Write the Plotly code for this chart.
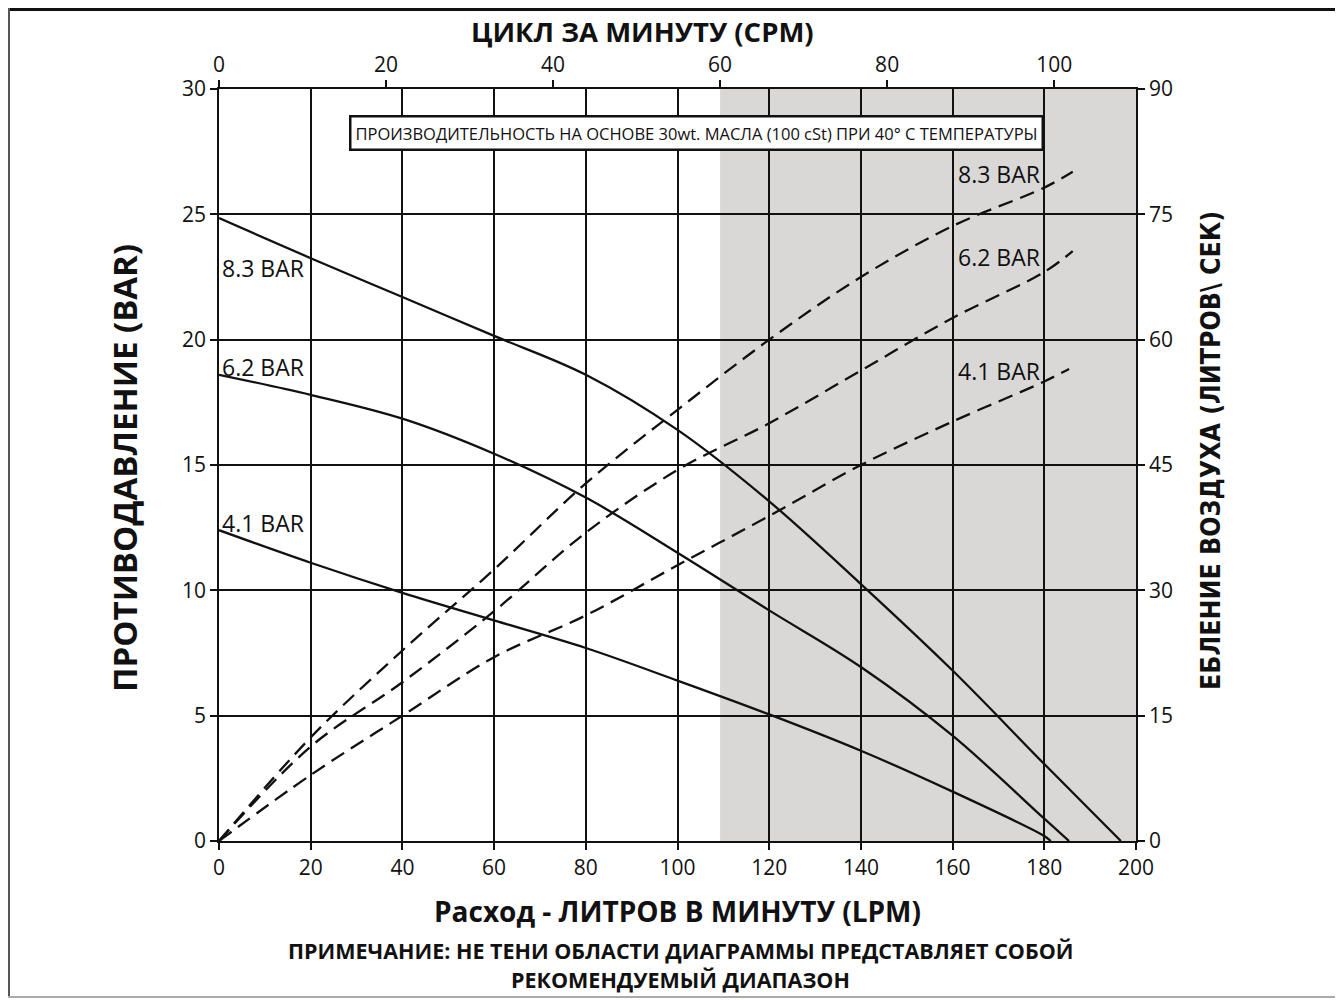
import plotly.graph_objects as go

# ---------------- data ----------------
lpm_ticks = [0, 20, 40, 60, 80, 100, 120, 140, 160, 180, 200]
bar_ticks = [0, 5, 10, 15, 20, 25, 30]
air_ticks = [0, 15, 30, 45, 60, 75, 90]
cpm_ticks = [0, 20, 40, 60, 80, 100]
cpm_axis_max = 109.8          # CPM at right edge (200 LPM)
shade_start_cpm = 60          # recommended range ends at 60 CPM

# back pressure (bar) vs flow (LPM) - solid
p83_x = [0, 20, 40, 60, 80, 100, 120, 140, 160, 180, 196.7]
p83_y = [24.85, 23.25, 21.7, 20.15, 18.6, 16.4, 13.55, 10.25, 6.8, 3.07, 0]
p62_x = [0, 20, 40, 60, 80, 100, 120, 140, 160, 180, 185.4]
p62_y = [18.6, 17.8, 16.85, 15.45, 13.7, 11.5, 9.2, 6.94, 4.2, 0.89, 0]
p41_x = [0, 20, 40, 60, 80, 100, 120, 140, 160, 180, 181.4]
p41_y = [12.4, 11.1, 9.9, 8.8, 7.7, 6.4, 5.05, 3.6, 1.97, 0.2, 0]

# air consumption (l/s) vs flow (LPM) - dashed
a83_x = [0, 20, 40, 60, 80, 100, 120, 140, 160, 180, 186.2]
a83_y = [0, 12.4, 22.8, 32.5, 42.8, 51.6, 60.0, 67.5, 73.6, 78.2, 80.1]
a62_x = [0, 20, 40, 60, 80, 100, 120, 140, 160, 180, 186.2]
a62_y = [0, 11.3, 19.0, 27.5, 36.9, 44.4, 50.0, 56.3, 62.6, 68.1, 70.6]
a41_x = [0, 20, 40, 60, 80, 100, 120, 140, 160, 180, 185.4]
a41_y = [0, 7.9, 15.0, 22.0, 27.0, 33.0, 38.9, 45.0, 50.2, 55.0, 56.5]

series_labels = ["8.3 BAR", "6.2 BAR", "4.1 BAR"]
left_label_y = [22.85, 18.9, 12.68]     # bar
right_label_y = [79.8, 69.9, 56.2]      # l/s

txt_top = "ЦИКЛ ЗА МИНУТУ (CPM)"
txt_bottom = "Расход - ЛИТРОВ В МИНУТУ (LPM)"
txt_left = "ПРОТИВОДАВЛЕНИЕ (BAR)"
txt_right = "ЕБЛЕНИЕ ВОЗДУХА (ЛИТРОВ\\ СЕК)"
txt_box = "ПРОИЗВОДИТЕЛЬНОСТЬ НА ОСНОВЕ 30wt. МАСЛА (100 cSt) ПРИ 40° С ТЕМПЕРАТУРЫ"
txt_note1 = "ПРИМЕЧАНИЕ: НЕ ТЕНИ ОБЛАСТИ ДИАГРАММЫ ПРЕДСТАВЛЯЕТ СОБОЙ"
txt_note2 = "РЕКОМЕНДУЕМЫЙ ДИАПАЗОН"

# ---------------- layout geometry (page pixels; page body has 8px margin) ----------------
OFF = 8
W, H = 1343 - OFF, 1000 - OFF
L, R, T, B = 219, 1136, 89, 841          # plot area in page pixels
FONT = "Open Sans, Noto Sans, DejaVu Sans, sans-serif"
NARROW = "Liberation Sans Narrow, DejaVu Sans Condensed, Open Sans, sans-serif"
INK = "#111111"


def px(xp):
    return (xp - L) / (R - L)


def py(yp):
    return (B - yp) / (B - T)


fig = go.Figure()

line_solid = dict(color=INK, width=2.3, shape="spline", smoothing=1.0)
line_dash = dict(color=INK, width=2.3, dash="15px,8px", shape="spline", smoothing=1.0)

for xs, ys, name in [(p83_x, p83_y, "8.3"), (p62_x, p62_y, "6.2"), (p41_x, p41_y, "4.1")]:
    fig.add_trace(go.Scatter(x=xs, y=ys, mode="lines", line=line_solid,
                             name=name + " bar", showlegend=False, hoverinfo="skip",
                             xaxis="x", yaxis="y"))
for xs, ys, name in [(a83_x, a83_y, "8.3"), (a62_x, a62_y, "6.2"), (a41_x, a41_y, "4.1")]:
    fig.add_trace(go.Scatter(x=xs, y=ys, mode="lines", line=line_dash,
                             name=name + " air", showlegend=False, hoverinfo="skip",
                             xaxis="x", yaxis="y2"))
# helper (invisible) trace so the top CPM axis is drawn
fig.add_trace(go.Scatter(x=cpm_ticks, y=[0] * len(cpm_ticks), mode="markers", marker=dict(opacity=0),
                         showlegend=False, hoverinfo="skip", xaxis="x2", yaxis="y"))

tickfont = dict(family=FONT, size=21, color=INK)

fig.update_layout(
    width=W, height=H,
    margin=dict(l=L - OFF, r=W - (R - OFF), t=T - OFF, b=H - (B - OFF), pad=0),
    paper_bgcolor="white", plot_bgcolor="white",
    showlegend=False,
    xaxis=dict(range=[0, 200], tickvals=lpm_ticks, ticks="outside", ticklen=7, tickwidth=1.5,
               tickcolor=INK, showgrid=True, gridcolor=INK, gridwidth=2, zeroline=False,
               showline=True, linecolor=INK, linewidth=2, tickfont=tickfont, fixedrange=True),
    xaxis2=dict(range=[0, cpm_axis_max], tickvals=cpm_ticks, overlaying="x", side="top", anchor="y",
                ticks="outside", ticklen=7, tickwidth=1.5, tickcolor=INK, showgrid=False,
                zeroline=False, showline=True, linecolor=INK, linewidth=1.5, tickfont=tickfont),
    yaxis=dict(range=[0, 30], tickvals=bar_ticks, ticks="outside", ticklen=7, tickwidth=1.5,
               tickcolor=INK, showgrid=True, gridcolor=INK, gridwidth=2, zeroline=False,
               showline=True, linecolor=INK, linewidth=1.5, tickfont=tickfont),
    yaxis2=dict(range=[0, 90], tickvals=air_ticks, overlaying="y", side="right", anchor="x",
                ticks="outside", ticklen=7, tickwidth=1.5, tickcolor=INK, showgrid=False,
                zeroline=False, showline=True, linecolor=INK, linewidth=1.5, tickfont=tickfont),
)

# shaded non-recommended area (from 60 CPM to right edge)
shade_x0 = shade_start_cpm * 200 / cpm_axis_max
fig.add_shape(type="rect", xref="x", yref="y", x0=shade_x0, x1=200, y0=0, y1=30,
              fillcolor="#d9d8d6", line=dict(width=0), layer="below")

# frame around the whole figure
fig.add_shape(type="line", xref="paper", yref="paper", x0=px(OFF), x1=px(1343), y0=py(OFF + 1.5), y1=py(OFF + 1.5),
              line=dict(color="#111111", width=3))
fig.add_shape(type="line", xref="paper", yref="paper", x0=px(OFF + 1), x1=px(OFF + 1), y0=py(OFF), y1=py(997),
              line=dict(color="#555555", width=2))
fig.add_shape(type="line", xref="paper", yref="paper", x0=px(OFF), x1=px(1343), y0=py(997), y1=py(997),
              line=dict(color="#aaaaaa", width=2))

ann = []
# series labels
for lab, yl in zip(series_labels, left_label_y):
    ann.append(dict(x=0.3, y=yl, xref="x", yref="y", text=lab, showarrow=False, xanchor="left",
                    yanchor="middle", font=dict(family=FONT, size=23, color=INK)))
for lab, yr in zip(series_labels, right_label_y):
    ann.append(dict(x=179.6, y=yr, xref="x", yref="y2", text=lab, showarrow=False, xanchor="right",
                    yanchor="middle", font=dict(family=FONT, size=23, color=INK)))
# boxed note
ann.append(dict(x=px(696), y=py(133), xref="paper", yref="paper", text=txt_box, showarrow=False,
                xanchor="center", yanchor="middle", font=dict(family=FONT, size=16.5, color=INK),
                bgcolor="white", bordercolor=INK, borderwidth=2.5, borderpad=4))
# titles
ann.append(dict(x=px(642), y=py(32), xref="paper", yref="paper", text="<b>" + txt_top + "</b>",
                showarrow=False, xanchor="center", yanchor="middle",
                font=dict(family=FONT, size=27.5, color=INK)))
ann.append(dict(x=px(677), y=py(911), xref="paper", yref="paper", text="<b>" + txt_bottom + "</b>",
                showarrow=False, xanchor="center", yanchor="middle",
                font=dict(family=FONT, size=28, color=INK)))
ann.append(dict(x=px(680), y=py(951), xref="paper", yref="paper", text="<b>" + txt_note1 + "</b>",
                showarrow=False, xanchor="center", yanchor="middle",
                font=dict(family=FONT, size=21.5, color=INK)))
ann.append(dict(x=px(680), y=py(979), xref="paper", yref="paper", text="<b>" + txt_note2 + "</b>",
                showarrow=False, xanchor="center", yanchor="middle",
                font=dict(family=FONT, size=21.5, color=INK)))
ann.append(dict(x=px(125), y=py(468), xref="paper", yref="paper", text="<b>" + txt_left + "</b>",
                showarrow=False, xanchor="center", yanchor="middle", textangle=-90,
                font=dict(family=FONT, size=33, color=INK)))
ann.append(dict(x=px(1210), y=py(451), xref="paper", yref="paper", text="<b>" + txt_right + "</b>",
                showarrow=False, xanchor="center", yanchor="middle", textangle=-90,
                font=dict(family=NARROW, size=26.5, color=INK)))
fig.update_layout(annotations=ann)

fig.write_html("out.html")
